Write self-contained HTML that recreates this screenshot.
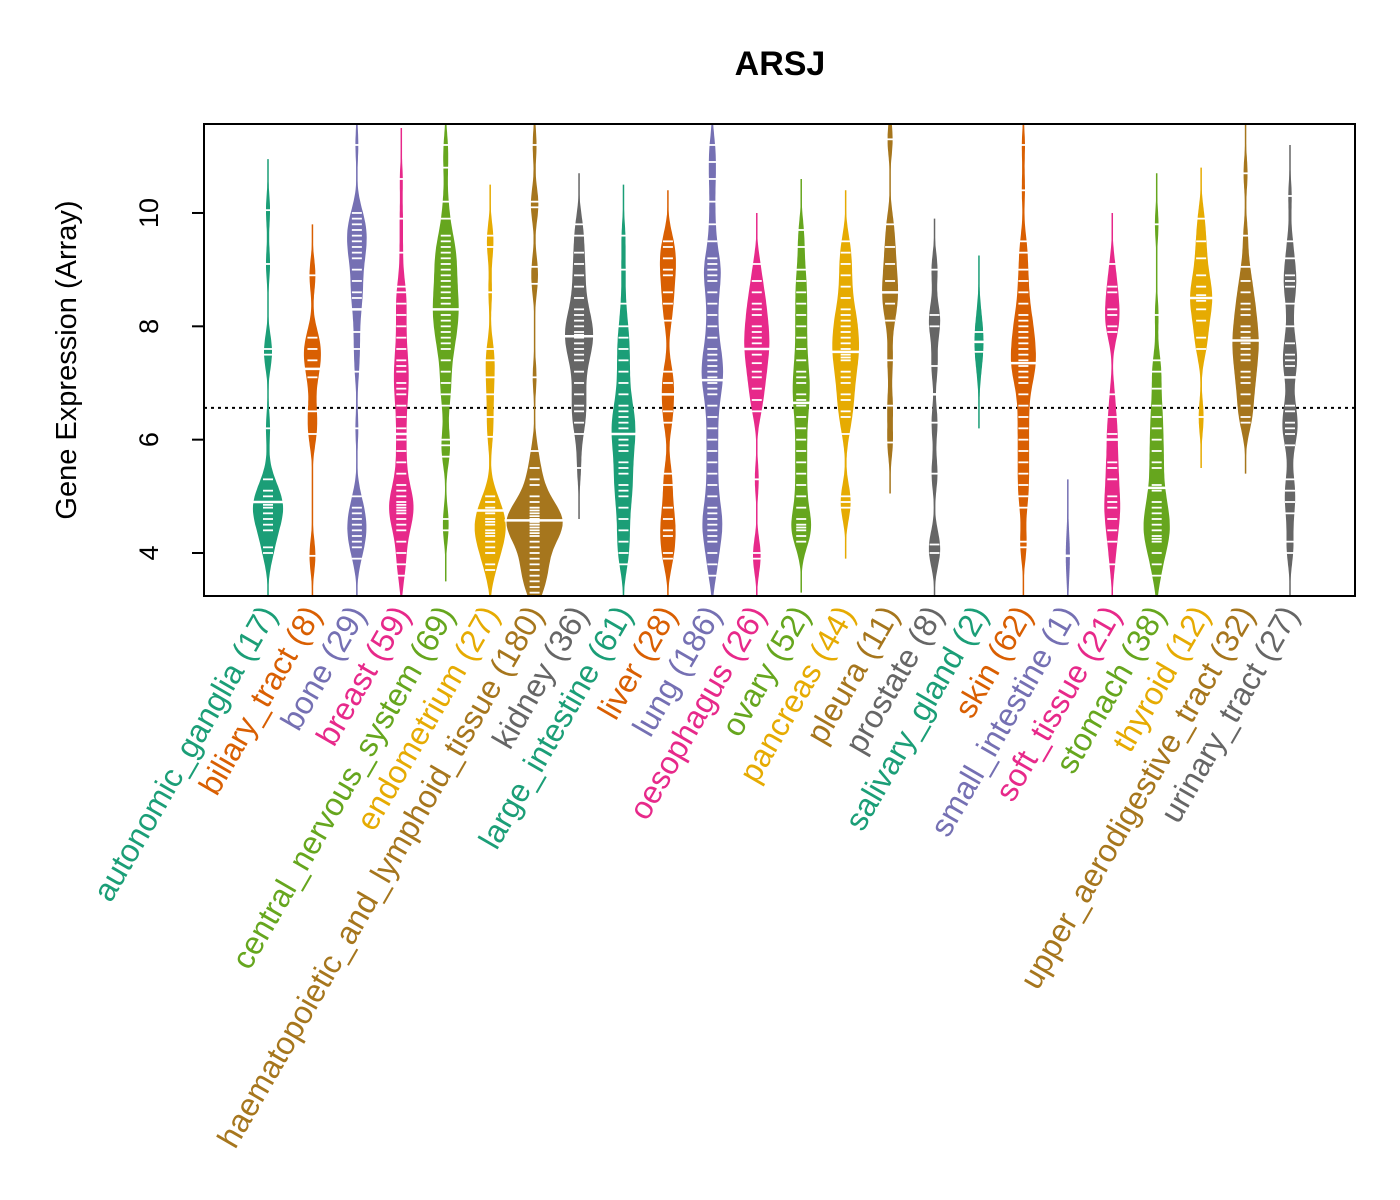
<!DOCTYPE html>
<html><head><meta charset="utf-8"><style>
body{margin:0;background:#fff}
svg{display:block;font-family:"Liberation Sans",Arial,sans-serif}
</style></head><body>
<svg id="chart" width="1400" height="1200" viewBox="0 0 1400 1200" xmlns="http://www.w3.org/2000/svg">
<rect width="1400" height="1200" fill="#fff"/>
<text x="780" y="75" font-size="34" font-weight="bold" text-anchor="middle">ARSJ</text>
<text transform="translate(76,360) rotate(-90)" font-size="29" text-anchor="middle">Gene Expression (Array)</text>
<defs><clipPath id="plotclip"><rect x="204" y="124" width="1151" height="472"/></clipPath></defs>
<g id="yaxis"></g>
<g id="marks" clip-path="url(#plotclip)"></g>
<g id="labels"></g>
<rect x="204" y="124" width="1151" height="472" fill="none" stroke="#000" stroke-width="2"/>
</svg>
<script>
const categories = ["autonomic_ganglia","biliary_tract","bone","breast","central_nervous_system","endometrium","haematopoietic_and_lymphoid_tissue","kidney","large_intestine","liver","lung","oesophagus","ovary","pancreas","pleura","prostate","salivary_gland","skin","small_intestine","soft_tissue","stomach","thyroid","upper_aerodigestive_tract","urinary_tract"];
const counts = [17,8,29,59,69,27,180,36,61,28,186,26,52,44,11,8,2,62,1,21,38,12,32,27];
const yTicks = [4,6,8,10];
const refLine = 6.56;
const s_autonomic = [10.05,9.1,7.6,7.5,6.2,5.3,5.1,5.0,4.9,4.85,4.8,4.7,4.6,4.5,4.4,4.1,4.0];
const s_biliary = [8.9,7.8,7.6,7.4,7.1,6.5,6.1,3.95];
const s_bone = [11.2,10.0,9.9,9.8,9.7,9.6,9.5,9.4,9.3,9.2,9.0,8.8,8.6,8.5,8.3,7.9,7.6,7.2,6.2,5.0,4.8,4.7,4.6,4.5,4.4,4.3,4.2,4.1,3.9];
const s_breast = [10.6,9.9,9.3,8.7,8.6,8.4,8.2,8.0,7.8,7.6,7.4,7.3,7.2,7.0,6.9,6.8,6.6,6.4,6.2,6.0,5.8,5.6,5.4,5.2,5.1,5.0,4.9,4.85,4.8,4.75,4.7,4.6,4.5,4.4,4.2,4.0,3.8,3.6];
const s_cns = [11.2,10.8,10.2,9.9,9.6,9.5,9.4,9.3,9.2,9.1,9.0,8.9,8.8,8.7,8.6,8.5,8.4,8.3,8.3,8.2,8.1,8.0,7.9,7.8,7.7,7.6,7.4,7.2,7.0,6.8,6.6,6.0,5.9,5.7,4.6,4.4];
const s_endometrium = [9.6,9.4,8.6,7.6,7.4,7.1,6.8,6.4,6.05,5.0,4.9,4.8,4.7,4.6,4.55,4.5,4.4,4.35,4.3,4.2,4.1,4.0,3.8,3.7];
const s_haemato = [11.2,10.2,10.1,9.05,8.75,7.1,5.8,5.5,5.3,5.2,5.0,4.9,4.8,4.75,4.7,4.65,4.6,4.6,4.55,4.55,4.5,4.5,4.45,4.4,4.35,4.3,4.2,4.1,4.0,3.9,3.8,3.7,3.6,3.5,3.4,3.3];
const s_kidney = [9.8,9.6,9.3,9.1,8.9,8.7,8.5,8.3,8.2,8.1,8.0,7.9,7.85,7.8,7.7,7.6,7.5,7.4,7.2,7.0,6.8,6.6,6.5,6.3,6.1,5.5];
const s_largeint = [9.6,9.0,8.4,8.0,7.8,7.6,7.4,7.2,7.0,6.8,6.6,6.5,6.4,6.3,6.2,6.1,6.0,5.9,5.8,5.6,5.5,5.4,5.2,5.1,5.0,4.8,4.6,4.4,4.2,4.0,3.8];
const s_liver = [9.5,9.4,9.2,9.0,8.9,8.6,8.4,8.1,7.2,7.0,6.8,6.5,6.3,5.4,5.2,4.8,4.6,4.4,4.3,4.0,3.9];
const s_lung = [11.2,10.9,10.6,10.2,9.8,9.5,9.2,9.1,9.0,8.9,8.8,8.6,8.4,8.2,8.0,7.8,7.6,7.5,7.4,7.3,7.2,7.1,7.0,6.9,6.8,6.6,6.4,6.2,6.0,5.8,5.6,5.4,5.2,5.0,4.8,4.7,4.6,4.5,4.4,4.3,4.2,4.0,3.8,3.6];
const s_oesophagus = [9.1,8.8,8.6,8.4,8.3,8.2,8.0,7.9,7.8,7.7,7.6,7.5,7.35,7.2,7.1,6.9,6.7,6.5,5.3,4.0,3.9];
const s_ovary = [9.7,9.4,9.0,8.8,8.6,8.4,8.2,8.0,7.8,7.6,7.4,7.2,7.1,7.0,6.8,6.7,6.6,6.4,6.2,6.0,5.8,5.6,5.4,5.2,5.0,4.8,4.6,4.5,4.45,4.4,4.3,4.2];
const s_pancreas = [9.5,9.3,9.1,8.9,8.7,8.5,8.3,8.2,8.1,8.0,7.9,7.8,7.7,7.6,7.5,7.45,7.4,7.2,7.1,7.0,6.8,6.7,6.5,6.4,6.1,5.0,4.9,4.8];
const s_pleura = [11.3,9.8,9.4,9.1,8.8,8.6,8.4,8.1,7.4,6.6,5.95];
const s_prostate = [9.0,8.2,8.0,7.3,6.3,5.4,4.15,4.0];
const s_salivary = [7.9,7.55];
const s_skin = [11.2,10.4,9.5,9.3,9.0,8.8,8.6,8.4,8.2,8.1,8.0,7.9,7.8,7.7,7.6,7.5,7.4,7.35,7.3,7.2,7.1,7.0,6.8,6.6,6.4,6.2,6.0,5.8,5.6,5.4,5.2,5.0,4.8,4.2,4.1];
const s_smallint = [3.95];
const s_softtissue = [9.1,8.7,8.6,8.3,8.2,8.0,7.9,6.8,6.4,6.1,6.0,5.6,5.5,5.3,5.0,4.9,4.8,4.6,4.4,4.2,3.8];
const s_stomach = [9.8,8.2,7.4,7.2,6.9,6.6,6.4,6.2,6.0,5.8,5.6,5.5,5.2,5.1,4.9,4.8,4.7,4.6,4.5,4.4,4.3,4.25,4.2,4.0,3.8,3.6];
const s_thyroid = [9.9,9.5,9.2,8.9,8.7,8.55,8.45,8.3,8.1,7.8,7.6,6.4];
const s_upperaero = [10.7,9.6,9.05,8.8,8.6,8.4,8.3,8.2,8.0,7.9,7.8,7.7,7.6,7.5,7.4,7.2,7.1,7.0,6.8,6.6,6.4,6.3];
const s_urinary = [10.3,9.5,9.2,8.9,8.8,8.7,8.4,8.0,7.7,7.5,7.4,7.3,7.1,6.6,6.5,6.3,6.2,6.1,5.9,5.3,5.1,4.9,4.7,4.2,4.0];
const samples = [s_autonomic,s_biliary,s_bone,s_breast,s_cns,s_endometrium,s_haemato,s_kidney,s_largeint,s_liver,s_lung,s_oesophagus,s_ovary,s_pancreas,s_pleura,s_prostate,s_salivary,s_skin,s_smallint,s_softtissue,s_stomach,s_thyroid,s_upperaero,s_urinary];
const palette = ["#1B9E77","#D95F02","#7570B3","#E7298A","#66A61E","#E6AB02","#A6761D","#666666"];

const NS = "http://www.w3.org/2000/svg";
const yScale = v => 553 - (v-4)*56.67;
const xScale = i => 268 + i*(1290-268)/(categories.length-1);
function mk(tag, attrs, parent){const e=document.createElementNS(NS,tag);for(const k in attrs)e.setAttribute(k,attrs[k]);parent.appendChild(e);return e;}
const yaxis=document.getElementById('yaxis'), marks=document.getElementById('marks'), labels=document.getElementById('labels');

yTicks.forEach(t=>{
  const y=yScale(t);
  const l=mk('line',{x1:204,x2:192,y1:y,y2:y,stroke:'#000','stroke-width':2},yaxis);
  
  
  const tx=mk('text',{transform:`translate(158,${y}) rotate(-90)`,'font-size':27,'text-anchor':'middle'},yaxis);
  tx.textContent=t;
  
  
});
const rl=mk('line',{x1:204,x2:1355,y1:yScale(refLine),y2:yScale(refLine),stroke:'#000','stroke-width':2,'stroke-dasharray':'3,4'},marks);



const K=10;
samples.forEach((s,i)=>{
  const col=palette[i%8], cx=xScale(i), n=s.length, N=counts[i];
  const g=mk('g',{},marks);
  
  
  const bw = N<=2 ? 0.45 : 0.3;
  const lo=Math.min(...s)-3*bw, hi=Math.max(...s)+3*bw;
  const stem=mk('line',{x1:cx,x2:cx,y1:yScale(lo),y2:yScale(hi),stroke:col,'stroke-width':1.5},g);
  
  
  const pts=[]; let maxw=0;
  const steps=140;
  const scale=K*Math.log(1+N)*N/(N+2);
  for(let k=0;k<=steps;k++){
    const v=lo+(hi-lo)*k/steps;
    let d=0; s.forEach(x=>{const z=(v-x)/bw;d+=Math.exp(-0.5*z*z);});
    d/= n*bw*Math.sqrt(2*Math.PI);
    const w=d*scale; maxw=Math.max(maxw,w);
    pts.push([v,w]);
  }
  const right=pts.map(p=>`${(cx+p[1]).toFixed(1)},${yScale(p[0]).toFixed(1)}`);
  const left=pts.slice().reverse().map(p=>`${(cx-p[1]).toFixed(1)},${yScale(p[0]).toFixed(1)}`);
  const poly=mk('polygon',{points:right.concat(left).join(' '),fill:col},g);
  
  
  s.forEach(v=>{
    const y=yScale(v);
    const t=mk('line',{x1:cx-5,x2:cx+5,y1:y,y2:y,stroke:'#fff','stroke-width':1.8},g);
    
    
  });
  const sorted=s.slice().sort((a,b)=>a-b);
  const med=n%2?sorted[(n-1)/2]:(sorted[n/2-1]+sorted[n/2])/2;
  const mw=Math.max(7,maxw+2);
  const ml=mk('line',{x1:cx-mw,x2:cx+mw,y1:yScale(med),y2:yScale(med),stroke:'#fff','stroke-width':2.5},g);
  
  

  const lb=mk('text',{transform:`translate(${cx+10},${614}) rotate(-60)`,'font-size':32,'text-anchor':'end',fill:col},labels);
  lb.textContent=`${categories[i]} (${counts[i]})`;
  
  
});
</script>
</body></html>
